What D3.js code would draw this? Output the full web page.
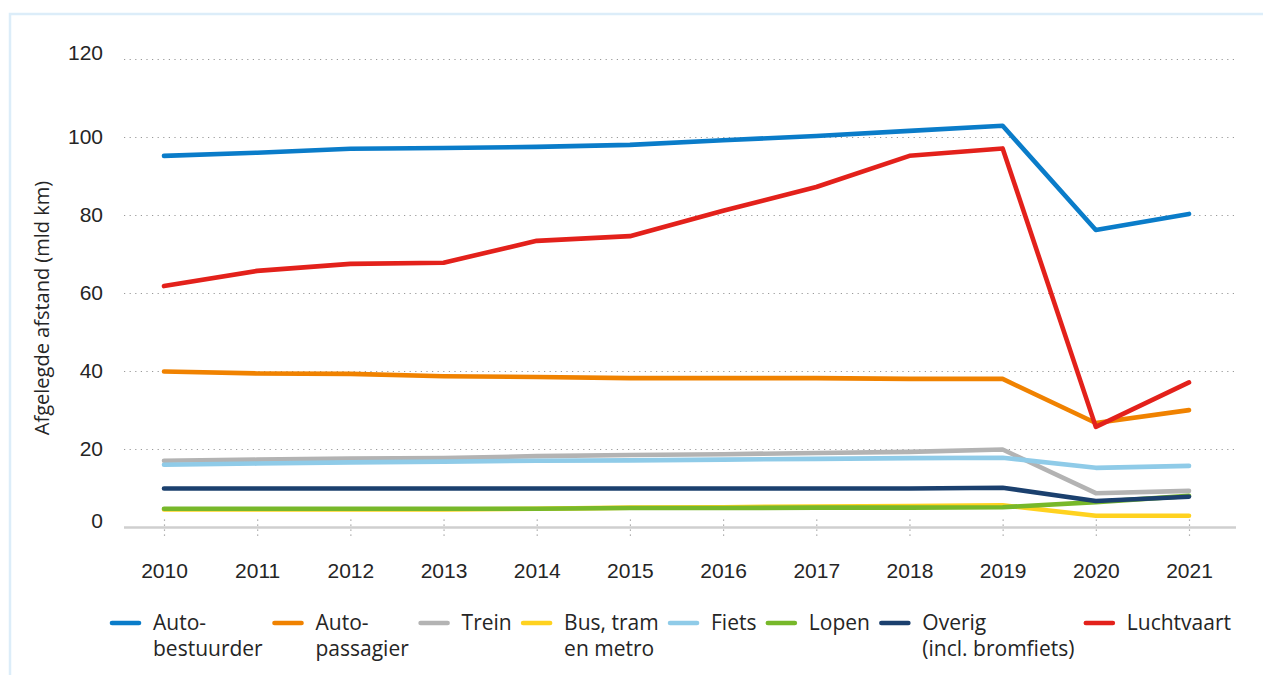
<!DOCTYPE html>
<html lang="nl">
<head>
<meta charset="utf-8">
<title>Afgelegde afstand per vervoerwijze</title>
<script src="https://cdn.jsdelivr.net/npm/d3@7"></script>
<style>
  html, body { margin: 0; padding: 0; background: #fff; }
  svg { display: block; font-family: "Open Sans", "Noto Sans", sans-serif; }
  .tick-label { font-size: 21px; fill: #252525; }
  .axis-title { font-size: 20px; fill: #252525; }
  .legend-label { font-size: 21px; fill: #252525; }
</style>
</head>
<body>
<svg id="chart" width="1263" height="675"></svg>
<script>
/* ── Data ───────────────────────────────────────────────── */
const years = [2010, 2011, 2012, 2013, 2014, 2015, 2016, 2017, 2018, 2019, 2020, 2021];
const yTicks = [0, 20, 40, 60, 80, 100, 120];

const autoBestuurder = [95.3, 96.1, 97.1, 97.3, 97.6, 98.1, 99.3, 100.4, 101.7, 103.0, 76.3, 80.4];
const autoPassagier  = [40.0, 39.5, 39.4, 38.8, 38.6, 38.3, 38.3, 38.3, 38.1, 38.1, 26.8, 30.1];
const trein          = [17.1, 17.4, 17.7, 17.8, 18.3, 18.6, 18.8, 19.1, 19.4, 20.0, 8.8, 9.4];
const busTramMetro   = [4.6, 4.6, 4.6, 4.6, 4.8, 5.1, 5.2, 5.4, 5.5, 5.7, 3.0, 3.0];
const fiets          = [16.1, 16.4, 16.7, 16.9, 17.1, 17.2, 17.4, 17.6, 17.8, 17.9, 15.3, 15.8];
const lopen          = [4.8, 4.8, 4.8, 4.8, 4.8, 5.0, 5.0, 5.1, 5.1, 5.2, 6.5, 8.1];
const overig         = [10.0, 10.0, 10.0, 10.0, 10.0, 10.0, 10.0, 10.0, 10.0, 10.2, 6.8, 7.9];
const luchtvaart     = [61.9, 65.8, 67.6, 67.9, 73.5, 74.7, 81.2, 87.3, 95.3, 97.2, 25.8, 37.2];

const seriesNames  = [["Auto-", "bestuurder"], ["Auto-", "passagier"], ["Trein"], ["Bus, tram", "en metro"],
                      ["Fiets"], ["Lopen"], ["Overig", "(incl. bromfiets)"], ["Luchtvaart"]];
const seriesValues = [autoBestuurder, autoPassagier, trein, busTramMetro, fiets, lopen, overig, luchtvaart];
const seriesColors = ["#0a7cc9", "#f08200", "#b3b3b3", "#ffd21f", "#8fcbe8", "#77b82a", "#1b406e", "#e3211b"];

const yTitle = "Afgelegde afstand (mld km)";

/* ── Layout ─────────────────────────────────────────────── */
const svg = d3.select("#chart");
const W = 1263, H = 675;
const plot = { left: 124, right: 1236, top: 59.5, bottom: 527.5 };

// light frame round the figure
svg.append("rect")
  .attr("x", 10).attr("y", 14)
  .attr("width", W + 20).attr("height", H + 20)
  .attr("fill", "none")
  .attr("stroke", "#dcedf9")
  .attr("stroke-width", 2.5);

const x = d3.scalePoint().domain(years).range([164, 1189]);
const y = d3.scaleLinear().domain([0, 120]).range([plot.bottom, plot.top]);

/* ── Grid ───────────────────────────────────────────────── */
svg.append("g")
  .selectAll("line")
  .data(yTicks.filter(d => d > 0))
  .join("line")
  .attr("x1", plot.left).attr("x2", plot.right)
  .attr("y1", d => y(d)).attr("y2", d => y(d))
  .attr("stroke", "#9a9a9a")
  .attr("stroke-width", 1.2)
  .attr("stroke-dasharray", "1.2,4.4");

/* ── Y axis ─────────────────────────────────────────────── */
const yAxis = svg.append("g")
  .attr("transform", `translate(103,0)`)
  .call(d3.axisLeft(y).tickValues(yTicks).tickSize(0).tickPadding(0));
yAxis.select(".domain").remove();
// the outer labels (0 and 120) sit a little above their line in the original
const yMin = d3.min(yTicks), yMax = d3.max(yTicks);
yAxis.selectAll("text")
  .attr("class", "tick-label")
  .attr("font-size", null)
  .attr("font-family", null)
  .attr("dy", d => (d === yMin || d === yMax) ? "0" : "0.3em");

svg.append("text")
  .attr("class", "axis-title")
  .attr("transform", `translate(49,308) rotate(-90)`)
  .attr("text-anchor", "middle")
  .text(yTitle);

/* ── X axis ─────────────────────────────────────────────── */
const xAxis = svg.append("g")
  .attr("transform", `translate(0,${plot.bottom})`)
  .call(d3.axisBottom(x).tickSize(0).tickPadding(0).tickFormat(d3.format("d")));
xAxis.select(".domain").remove();
xAxis.selectAll(".tick line").remove();
xAxis.selectAll(".tick").append("line")
  .attr("y1", -8).attr("y2", 12)
  .attr("stroke", "#9a9a9a")
  .attr("stroke-width", 1.2)
  .attr("stroke-dasharray", "1.2,3.8");
xAxis.selectAll("text")
  .attr("class", "tick-label")
  .attr("font-size", null)
  .attr("font-family", null)
  .attr("y", 50)
  .attr("dy", 0);

// solid baseline
svg.append("line")
  .attr("x1", plot.left).attr("x2", plot.right)
  .attr("y1", y(0)).attr("y2", y(0))
  .attr("stroke", "#cfcfcf")
  .attr("stroke-width", 2.5);

/* ── Lines ──────────────────────────────────────────────── */
const line = d3.line()
  .x((d, i) => x(years[i]))
  .y(d => y(d));

svg.append("g")
  .selectAll("path")
  .data(seriesValues)
  .join("path")
  .attr("d", line)
  .attr("fill", "none")
  .attr("stroke", (d, i) => seriesColors[i])
  .attr("stroke-width", 4.6)
  .attr("stroke-linejoin", "round")
  .attr("stroke-linecap", "round");

/* ── Legend ─────────────────────────────────────────────── */
const legend = svg.append("g").attr("transform", "translate(0,623)");
const legendLeft = 112, legendRight = 1231;
const swatchLen = 27, textGap = 14, lineH = 26;

const items = legend.selectAll("g")
  .data(seriesNames)
  .join("g");

items.append("line")
  .attr("x1", 0).attr("x2", swatchLen)
  .attr("y1", 0).attr("y2", 0)
  .attr("stroke", (d, i) => seriesColors[i])
  .attr("stroke-width", 4.6)
  .attr("stroke-linecap", "round");

items.append("text")
  .attr("class", "legend-label")
  .attr("x", swatchLen + textGap)
  .attr("y", 7)
  .selectAll("tspan")
  .data(d => d)
  .join("tspan")
  .attr("x", swatchLen + textGap)
  .attr("dy", (d, i) => i === 0 ? 0 : lineH)
  .text(d => d);

// spread the items evenly between the legend edges
const widths = [];
items.each(function () { widths.push(this.getBBox().width); });
const gap = (legendRight - legendLeft - d3.sum(widths)) / (widths.length - 1);
let cx = legendLeft;
items.attr("transform", (d, i) => {
  const t = `translate(${cx},0)`;
  cx += widths[i] + gap;
  return t;
});
</script>
</body>
</html>
